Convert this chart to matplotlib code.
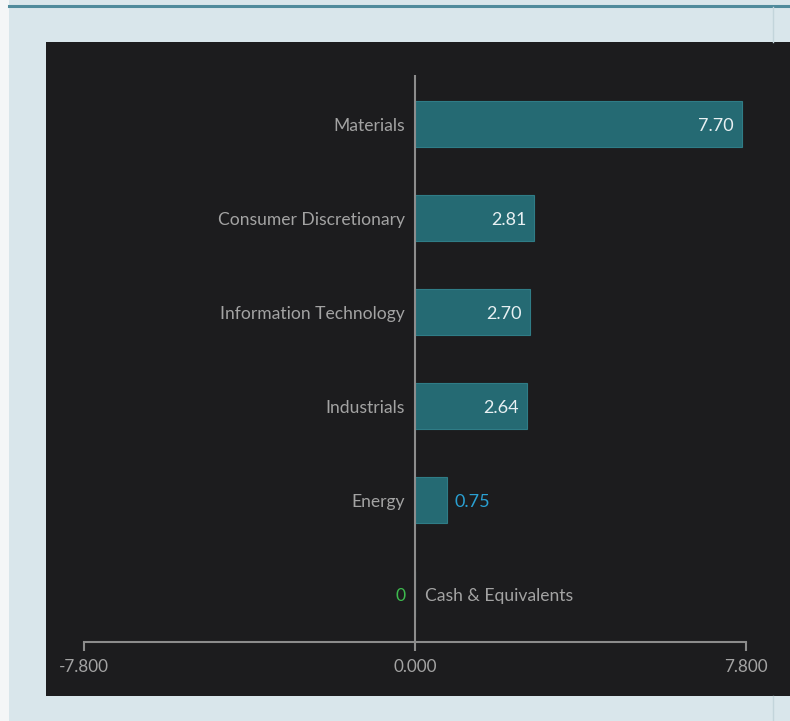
import matplotlib
matplotlib.use('Agg')
import matplotlib.pyplot as plt
from matplotlib.patches import Rectangle
from matplotlib.lines import Line2D

plt.rcParams['font.family'] = ['Lato', 'DejaVu Sans']
plt.rcParams['axes.unicode_minus'] = False

categories = ['Materials', 'Consumer Discretionary', 'Information Technology',
              'Industrials', 'Energy', 'Cash & Equivalents']
values = [7.70, 2.81, 2.70, 2.64, 0.75, 0.0]
xticks = [-7.8, 0.0, 7.8]

W, H = 790, 721
fig = plt.figure(figsize=(W / 100, H / 100), dpi=100, facecolor='#d9e6eb')

# page decoration
fig.patches.append(Rectangle((0, 0), 9 / W, 1, transform=fig.transFigure,
                             facecolor='#f4f6f7', edgecolor='none', zorder=0))
fig.patches.append(Rectangle((46 / W, 1 - 696 / H), (W - 46) / W, (696 - 42) / H,
                             transform=fig.transFigure, facecolor='#1c1c1e',
                             edgecolor='none', zorder=1))
fig.lines.append(Line2D([9 / W, 1], [1 - 6 / H, 1 - 6 / H], transform=fig.transFigure,
                        color='#508b9c', lw=2.2, zorder=2))
for y0, y1 in [(7, 42), (696, 721)]:
    fig.lines.append(Line2D([772.5 / W, 772.5 / W], [1 - y0 / H, 1 - y1 / H],
                            transform=fig.transFigure, color='#c3d5db', lw=1, zorder=2))

# axes placement: -7.8 at x=84, 7.8 at x=747; axis line at y=642, top at y=75
ax = fig.add_axes([84 / W, 1 - 642 / H, 662 / W, (642 - 75) / H])
ax.set_facecolor('none')
ax.set_zorder(3)

pos = list(range(len(categories)))
ax.set_xlim(-7.8, 7.8)
ax.set_ylim(5.51, -0.52)

bars = ax.barh(pos, values, height=0.49, color='#256a73', edgecolor='#2f7c86', linewidth=0.8)
ax.axvline(0, color='#8c8c8c', lw=1.5, zorder=4)

for s in ['left', 'right', 'top']:
    ax.spines[s].set_visible(False)
ax.spines['bottom'].set_color('#8c8c8c')
ax.spines['bottom'].set_linewidth(1.5)
ax.set_yticks([])
ax.set_xticks(xticks)
ax.set_xticklabels(['%.3f' % t for t in xticks])
ax.tick_params(axis='x', direction='out', length=6.5, width=1.5, color='#8c8c8c',
               labelcolor='#a3a3a3', labelsize=12.3, pad=6)

fs = 12.6
dy = -2
for i, (c, v) in enumerate(zip(categories, values)):
    if v == 0:
        ax.annotate('0', (0, i), xytext=(-9, dy), textcoords='offset pixels',
                    ha='right', va='center', color='#3dba4e', fontsize=fs)
        ax.annotate(c, (0, i), xytext=(10, dy), textcoords='offset pixels',
                    ha='left', va='center', color='#a3a3a3', fontsize=fs)
        continue
    ax.annotate(c, (0, i), xytext=(-10, dy), textcoords='offset pixels',
                ha='right', va='center', color='#a3a3a3', fontsize=fs)
    if v > 1.5:
        ax.annotate('%.2f' % v, (v, i), xytext=(-8, dy), textcoords='offset pixels',
                    ha='right', va='center', color='#e8f0f2', fontsize=13)
    else:
        ax.annotate('%.2f' % v, (v, i), xytext=(8, dy), textcoords='offset pixels',
                    ha='left', va='center', color='#2aa0d2', fontsize=13)

fig.savefig('out.png', dpi=100, facecolor=fig.get_facecolor())
